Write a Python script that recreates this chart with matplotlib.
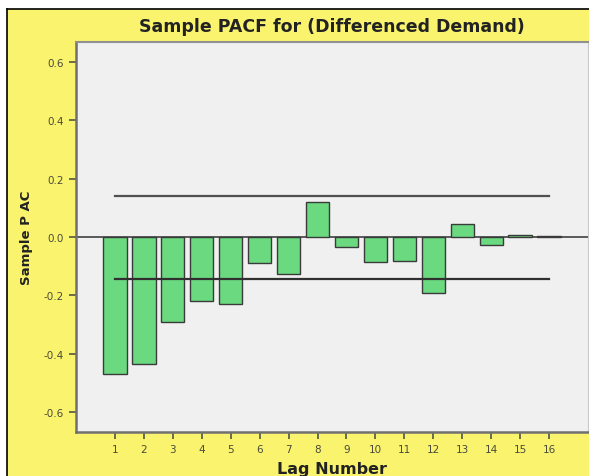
import numpy as np
import matplotlib
matplotlib.use("Agg")
import matplotlib.pyplot as plt
from matplotlib.patches import Rectangle
from matplotlib.lines import Line2D

lags = list(range(1, 17))
pacf = [-0.47, -0.435, -0.29, -0.22, -0.23, -0.09, -0.127, 0.12,
        -0.034, -0.086, -0.082, -0.19, 0.045, -0.026, 0.006, 0.005]
conf_upper = 0.14
conf_lower = -0.144
yticks = [-0.6, -0.4, -0.2, 0.0, 0.2, 0.4, 0.6]

YELLOW = "#faf36e"
GREEN = "#6ad97f"
W, H = 589, 477

fig = plt.figure(figsize=(W / 100, H / 100), dpi=100)
fig.patch.set_facecolor("white")

# yellow chart frame with black border on left/top
fig.patches.append(Rectangle((7 / W, 0), 1 - 7 / W, 1 - 10 / H, transform=fig.transFigure,
                             facecolor=YELLOW, edgecolor="none", zorder=-2))
fig.lines.append(Line2D([7 / W, 7 / W], [0, 1 - 10 / H], transform=fig.transFigure,
                        color="black", lw=1.2, zorder=-1))
fig.lines.append(Line2D([7 / W, 1], [1 - 10 / H, 1 - 10 / H], transform=fig.transFigure,
                        color="black", lw=1.2, zorder=-1))

ax = fig.add_axes([76 / W, 1 - 433 / H, (588 - 76) / W, (433 - 43) / H])
ax.set_zorder(2)
ax.set_facecolor("#f0f0f0")

ax.bar(lags, pacf, width=0.8, color=GREEN, edgecolor="#3a3a3a", linewidth=1.0, zorder=3)
ax.axhline(0, color="#404040", lw=1.2, zorder=2)
ax.plot([1, 16], [conf_upper, conf_upper], color="#505050", lw=1.6, zorder=4)
ax.plot([1, 16], [conf_lower, conf_lower], color="#303030", lw=1.6, zorder=4)

ax.set_xlim(-0.35, 17.35)
ax.set_ylim(-0.668, 0.669)
ax.set_xticks(lags)
ax.set_yticks(yticks)
ax.set_yticklabels([f"{v:.1f}" for v in yticks])
ax.tick_params(axis="both", direction="out", labelsize=7.5, colors="#555544",
               labelcolor="#4a4a3a", length=5, width=1.2)

for side in ("left", "bottom"):
    ax.spines[side].set_color("#707070")
    ax.spines[side].set_linewidth(1.8)
ax.spines["top"].set_color("#909090")
ax.spines["top"].set_linewidth(1.5)
ax.spines["right"].set_color("#c8c8c8")

ax.set_title("Sample PACF for (Differenced Demand)", fontsize=12.5, fontweight="bold",
             color="#222222", pad=8)
ax.set_xlabel("Lag Number", fontsize=11.5, fontweight="bold", color="#222222", labelpad=5)
ax.set_ylabel("Sample P AC", fontsize=9.5, fontweight="bold", color="#222222", labelpad=8)

fig.savefig("out.png", dpi=100, facecolor=fig.get_facecolor())
